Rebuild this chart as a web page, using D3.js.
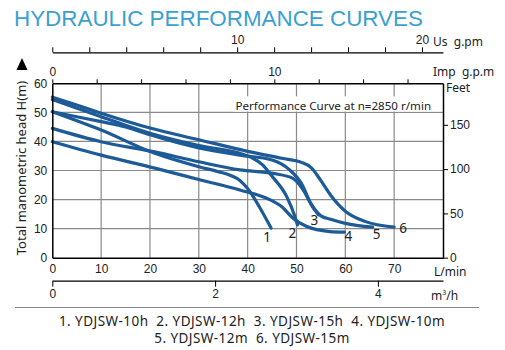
<!DOCTYPE html>
<html>
<head>
<meta charset="utf-8">
<script src="https://cdn.jsdelivr.net/npm/d3@7"></script>
<style>
  body { margin: 0; background: #fff; }
  svg { font-family: "Noto Sans", "Open Sans", sans-serif; }
  svg text { white-space: pre; }
  .axis path, .axis line { stroke: #000; }
  .axis text { fill: #222; font-size: 12px; }
</style>
</head>
<body>
<svg id="chart"></svg>
<script>
// Data: flow (L/min) vs head (m)
const names = ["YDJSW-10h", "YDJSW-12h", "YDJSW-15h", "YDJSW-10m", "YDJSW-12m", "YDJSW-15m"];
const curve1 = [[0,50.2],[10,43.9],[21,35.9],[30,31.3],[34,29.6],[36.5,28.3],[38.4,26.6],[40,23.8],[42.5,17.2],[44.8,10.2]];
const curve2 = [[0,54.4],[10,48.5],[20,42.8],[30,38.6],[38.4,35.9],[41,34.3],[43,32],[45,28],[48,21],[49.6,14.5],[50.2,11.3]];
const curve3 = [[0,44.5],[10,39.9],[21,36.4],[30,33],[38.4,30.2],[45.2,29],[49.3,27.3],[51.3,23.5],[53.4,17.2],[54.5,14.8]];
const curve4 = [[0,39.9],[10,35.3],[21,30.8],[30,26.9],[38.4,23.3],[44.5,20],[47,17.5],[49.3,13.6],[52,10.8],[56.8,9],[59.8,8.8]];
const curve5 = [[0,50.2],[5,48.5],[10,46.8],[15,45],[20,42.3],[30,37.8],[38.4,35.3],[45,33.6],[48.6,30.2],[51,25.6],[53,18.5],[55,14.4],[57,13.2],[60,11.8],[65.6,10.5]];
const curve6 = [[0,55.2],[5,52.5],[10,49.7],[20,44.6],[30,40.6],[40,36.6],[47,34.2],[51,32.8],[53,31],[55,26.5],[57,21.5],[60,16],[64,12.5],[70,10.5]];
const curves = [curve1, curve2, curve3, curve4, curve5, curve6];

const flowTicks = [0, 10, 20, 30, 40, 50, 60, 70];
const headTicks = [0, 10, 20, 30, 40, 50, 60];
const feetTicks = [0, 50, 100, 150];
const impTicks = [0, 2, 4, 6, 8, 10, 12, 14, 16];
const usTicks = [0, 2, 4, 6, 8, 10, 12, 14, 16, 18, 20];
const m3hTicks = [0, 2, 4];

const W = 505, H = 350;
const margin = {top: 83.3, right: 62, bottom: 92.3, left: 52.3},
  width = W - margin.left - margin.right,
  height = H - margin.top - margin.bottom;

const root = d3.select("#chart").attr("width", W).attr("height", H);
const svg = root.append("g").attr("transform", `translate(${margin.left},${margin.top})`);

const x = d3.scaleLinear().domain([0, 80]).range([0, width]);
const y = d3.scaleLinear().domain([0, 60]).range([height, 0]);
const yFeet = d3.scaleLinear().domain([0, 60 * 3.2808]).range([height, 0]);
const xImp = d3.scaleLinear().domain([0, 80 / 4.546]).range([0, width]);
const xUs = d3.scaleLinear().domain([0, 80 / 3.785]).range([0, width]);
const xM3h = d3.scaleLinear().domain([0, 80 * 0.06]).range([0, width]);

// Title
root.append("text").attr("x", 14).attr("y", 25.5)
  .style("font-family", "'Liberation Sans', Arial, sans-serif")
  .style("font-size", "22.4px").attr("fill", "#3a9fd2")
  .text("HYDRAULIC PERFORMANCE CURVES");

// Grid
svg.append("g").selectAll("line").data(flowTicks.slice(1)).join("line")
  .attr("x1", d => x(d)).attr("x2", d => x(d)).attr("y1", 0).attr("y2", height)
  .attr("stroke", "#8a8a8a").attr("stroke-width", 1.2);
svg.append("g").selectAll("line").data(headTicks.slice(1, -1)).join("line")
  .attr("x1", 0).attr("x2", width).attr("y1", d => y(d)).attr("y2", d => y(d))
  .attr("stroke", "#8a8a8a").attr("stroke-width", 1.2);

// Box behind the subtitle
svg.append("rect").attr("x", x(37.1)).attr("y", y(55.5)).attr("width", x(80) - x(37.1) - 1)
  .attr("height", y(50.3) - y(55.5)).attr("fill", "#fff");
svg.append("text").attr("x", x(37.5)).attr("y", y(52.3) + 4)
  .style("font-size", "11.6px").attr("fill", "#222")
  .text("Performance Curve at n=2850 r/min");

// Curves
const line = d3.line().x(d => x(d[0])).y(d => y(d[1])).curve(d3.curveMonotoneX);
svg.append("g").selectAll("path").data(curves).join("path")
  .attr("d", line).attr("fill", "none").attr("stroke", "#1d5a98")
  .attr("stroke-width", 3.2).attr("stroke-linecap", "round");

// Curve numbers near curve ends
const labelOffsets = [[-4, 14], [-5, 13], [-4, 10], [4, 9], [4, 12], [9, 6]];
svg.append("g").selectAll("text").data(curves).join("text")
  .attr("x", (d, i) => x(d[d.length - 1][0]) + labelOffsets[i][0])
  .attr("y", (d, i) => y(d[d.length - 1][1]) + labelOffsets[i][1])
  .attr("text-anchor", "middle").style("font-size", "13.5px").attr("fill", "#222")
  .text((d, i) => i + 1);

// Left axis (m)
svg.append("g").attr("class", "axis")
  .call(d3.axisLeft(y).tickValues(headTicks).tickSize(0).tickPadding(5))
  .call(g => g.select(".domain").attr("stroke-width", 1.5));

// Right axis (feet)
svg.append("g").attr("class", "axis").attr("transform", `translate(${width},0)`)
  .call(d3.axisRight(yFeet).tickValues(feetTicks).tickSize(5).tickSizeOuter(0).tickPadding(2))
  .call(g => g.select(".domain").attr("stroke-width", 1.5));
svg.append("text").attr("x", width + 3).attr("y", 9).style("font-size", "12px").attr("fill", "#222").text("Feet");

// Bottom axis (L/min)
svg.append("g").attr("class", "axis").attr("transform", `translate(0,${height})`)
  .call(d3.axisBottom(x).tickValues(flowTicks).tickSize(0).tickPadding(7))
  .call(g => g.select(".domain").attr("stroke-width", 1.5));
svg.append("text").attr("x", x(80) - 9).attr("y", height + 18).style("font-size", "12px").attr("fill", "#222").text("L/min");

// Top axis (Imp g.p.m) on the plot border
svg.append("g").attr("class", "axis")
  .call(d3.axisTop(xImp).tickValues(impTicks).tickSize(4).tickSizeOuter(0)
    .tickFormat(d => (d === 0 || d === 10) ? d : ""))
  .call(g => g.select(".domain").attr("stroke-width", 1.5));
svg.append("text").attr("x", x(80) - 10).attr("y", -7).style("font-size", "12px").attr("fill", "#222").text("Imp  g.p.m");

// US g.pm axis
svg.append("g").attr("class", "axis").attr("transform", "translate(0,-31)")
  .call(d3.axisTop(xUs).tickValues(usTicks).tickSize(5).tickSizeOuter(0).tickPadding(3)
    .tickFormat(d => (d === 10 || d === 20) ? d : ""))
  .call(g => g.select(".domain").attr("stroke-width", 1.3));
svg.append("text").attr("x", x(80) - 10).attr("y", -37).style("font-size", "12px").attr("fill", "#222").text("Us  g.pm");

// m3/h axis
svg.append("g").attr("class", "axis").attr("transform", `translate(0,${height + 23})`)
  .call(d3.axisBottom(xM3h).tickValues(m3hTicks).tickSize(6).tickSizeOuter(0).tickPadding(3)
    .tickFormat(d3.format("d")))
  .call(g => g.select(".domain").attr("stroke-width", 1.3));
const m3 = svg.append("text").attr("x", x(80) - 12).attr("y", height + 42)
  .style("font-size", "12px").attr("fill", "#222");
m3.append("tspan").text("m");
m3.append("tspan").attr("dy", -5).style("font-size", "7px").text("3");
m3.append("tspan").attr("dy", 5).text("/h");

// Y label and arrow
root.append("text").attr("transform", "translate(26,168) rotate(-90)")
  .attr("text-anchor", "middle").style("font-size", "13px").attr("fill", "#222")
  .text("Total manometric head H(m)");
root.append("path").attr("d", "M22,58L16.5,70L27.5,70Z").attr("fill", "#000");

// Separator and legend
root.append("line").attr("x1", 15).attr("x2", 479).attr("y1", 307.5).attr("y2", 307.5)
  .attr("stroke", "#888").attr("stroke-width", 1);
const legendRows = [[0, 1, 2, 3], [4, 5]];
root.append("g").selectAll("text").data(legendRows).join("text")
  .attr("x", 252).attr("y", (d, i) => 325.5 + i * 17).attr("text-anchor", "middle")
  .style("font-size", "13.5px").style("letter-spacing", "0.45px").attr("fill", "#222")
  .text(d => d.map(i => `${i + 1}. ${names[i]}`).join("  "));
</script>
</body>
</html>
